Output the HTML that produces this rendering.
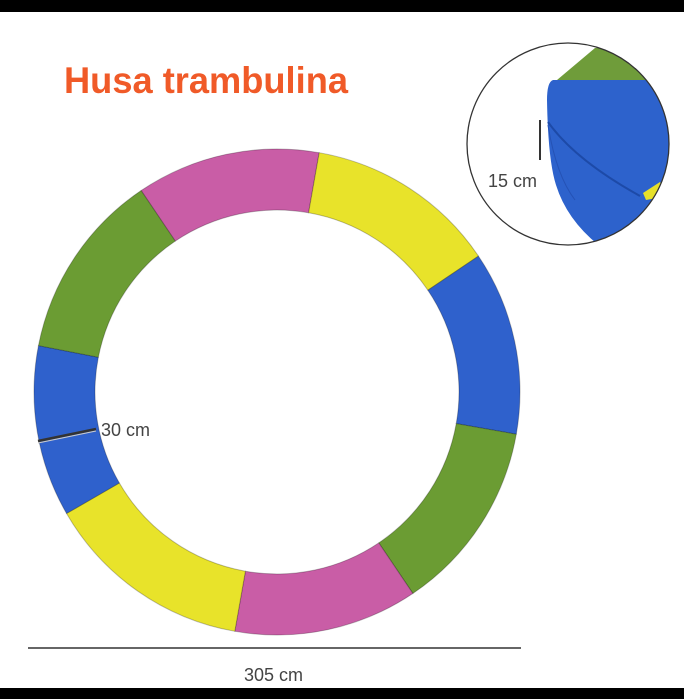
<!DOCTYPE html>
<html><head><meta charset="utf-8"><style>
html,body{margin:0;padding:0;background:#fff;}
svg{display:block}
</style></head><body>
<svg id="s" width="684" height="699" viewBox="0 0 684 699" xmlns="http://www.w3.org/2000/svg">
<rect width="684" height="699" fill="#fff"/>
<rect x="0" y="0" width="684" height="12" fill="#000"/>
<rect x="0" y="688" width="684" height="11" fill="#000"/>
<text x="64" y="93" font-family="Liberation Sans, sans-serif" font-weight="bold" font-size="37" fill="#f05a28" textLength="284" lengthAdjust="spacingAndGlyphs">Husa trambulina</text>
<g id="ring"></g>
<line x1="38" y1="441" x2="96" y2="429" stroke="#333" stroke-width="2.5"/>
<line x1="38" y1="443" x2="96" y2="431" stroke="#ccc" stroke-width="1"/>
<text x="101" y="436" font-family="Liberation Sans, sans-serif" font-size="18" fill="#444">30 cm</text>
<line x1="28" y1="648" x2="521" y2="648" stroke="#333" stroke-width="1.5"/>
<text x="244" y="681" font-family="Liberation Sans, sans-serif" font-size="18" fill="#444">305 cm</text>
<defs><clipPath id="c"><circle cx="568" cy="144" r="101"/></clipPath></defs>
<g clip-path="url(#c)">
<path d="M557 80 L595 48 L700 40 L700 80 Z" fill="#6f9c3a"/>
<path d="M553 80 L700 80 L700 260 L620 260 Q570 230 556 185 Q548 160 547 100 Q547 82 553 80 Z" fill="#2d62cc"/>
<path d="M548 122 Q575 160 640 196" stroke="#1d4aa8" stroke-width="2" fill="none"/>
<path d="M548 125 Q556 175 575 200" stroke="#2552b5" stroke-width="1" fill="none"/>
<path d="M643 193 L660 182 L668 196 L646 200 Z" fill="#e6e02a"/>
</g>
<circle cx="568" cy="144" r="101" fill="none" stroke="#333" stroke-width="1.3"/>
<line x1="540" y1="120" x2="540" y2="160" stroke="#333" stroke-width="2"/>
<text x="488" y="187" font-family="Liberation Sans, sans-serif" font-size="18" fill="#444">15 cm</text>
</svg>
<script>
var cx=277,cy=392,R=243,r=182;
var segs=[[326,370,'#c95da6'],[10,56,'#e8e32a'],[56,100,'#2f61cc'],[100,146,'#6b9c33'],[146,190,'#c95da6'],[190,240,'#e8e32a'],[240,281,'#2f61cc'],[281,326,'#6b9c33']];
function p(a,rad){var t=a*Math.PI/180;return [cx+rad*Math.sin(t),cy-rad*Math.cos(t)];}
var g=document.getElementById('ring'),h='';
segs.forEach(function(s){var a=p(s[0],R),b=p(s[1],R),c=p(s[1],r),d=p(s[0],r);
h+='<path d="M'+a+' A'+R+' '+R+' 0 0 1 '+b+' L'+c+' A'+r+' '+r+' 0 0 0 '+d+' Z" fill="'+s[2]+'" stroke="rgba(0,0,0,0.25)" stroke-width="1"/>';});
g.innerHTML=h;
</script>
</body></html>
